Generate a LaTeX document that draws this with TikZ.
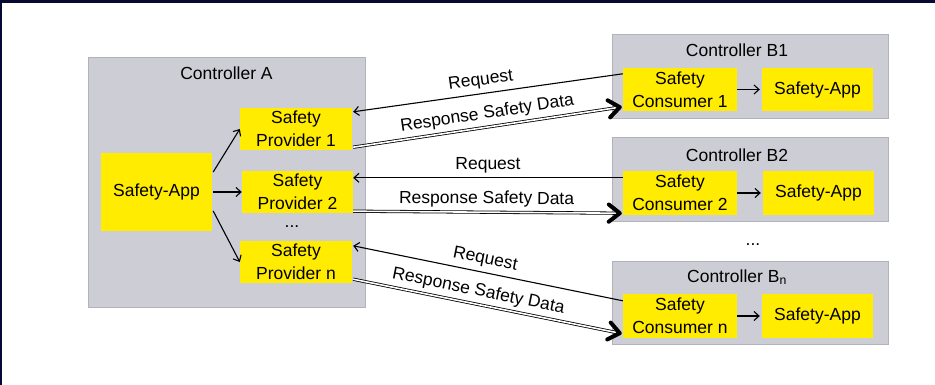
\documentclass[tikz,border=0pt]{standalone}
\usepackage{fontspec}
\setmainfont{Liberation Sans}
\usetikzlibrary{arrows.meta,calc}
\definecolor{ctrlgray}{RGB}{205,205,213}
\definecolor{ctrlborder}{RGB}{178,178,188}
\definecolor{sy}{RGB}{255,236,0}
\definecolor{navy}{RGB}{8,8,52}
\begin{document}
\begin{tikzpicture}[x=1pt,y=-1pt,
  ctrl/.style={fill=ctrlgray, draw=ctrlborder, line width=0.8pt, inner sep=0pt},
  ybox/.style={fill=sy, inner sep=0pt, align=center, font=\fontsize{17.5}{23}\selectfont},
  lbl/.style={font=\fontsize{17.5}{20}\selectfont, inner sep=0pt},
  arrlbl/.style={font=\fontsize{17.5}{20}\selectfont, inner sep=0pt, above=4.5pt, sloped},
  thinarrow/.style={line width=1.1pt, -{Straight Barb[length=5pt,width=9pt,line width=1.1pt]}},
  resp/.style={double, double distance=1.6pt, line width=0.8pt, shorten >=4pt},
  chev/.style={line width=4pt, line join=round, line cap=round}
]
\useasboundingbox (0,0) rectangle (935,385);
\fill[white] (0,0) rectangle (935,385);
\fill[navy] (0,0) rectangle (935,3);
\fill[navy] (0,0) rectangle (2,385);

% Controller A
\node[ctrl, minimum width=277pt, minimum height=250pt] (ca) at (226.5,182) {};
\node[lbl] (lca) at (226.5,73) {Controller A};
\node[ybox, minimum width=111pt, minimum height=78pt] (appa) at (156.5,192) {Safety-App};
\node[ybox, minimum width=112pt, minimum height=42pt] (sp1) at (296,129) {Safety\\Provider 1};
\node[ybox, minimum width=111pt, minimum height=42pt] (sp2) at (297.5,192) {Safety\\Provider 2};
\node[ybox, minimum width=112pt, minimum height=42pt] (spn) at (296,262) {Safety\\Provider n};
\node[lbl] (dotsa) at (292,227) {...};

\draw[thinarrow] ($(appa.east)+(1,-20)$) -- (sp1.west);
\draw[thinarrow] ($(appa.east)+(1,0)$) -- (sp2.west);
\draw[thinarrow] ($(appa.east)+(1,19)$) -- (spn.west);

% Controller B1
\node[ctrl, minimum width=276pt, minimum height=84pt] (cb1) at (750,76) {};
\node[lbl] (lcb1) at (737,50) {Controller B1};
\node[ybox, minimum width=114pt, minimum height=43pt] (co1) at (680,89.5) {Safety\\Consumer 1};
\node[ybox, minimum width=111pt, minimum height=43pt] (ap1) at (817.5,89.5) {Safety-App};
\draw[thinarrow] (co1.east) -- ($(ap1.west)+(-2,0)$);

% Controller B2
\node[ctrl, minimum width=276pt, minimum height=84pt] (cb2) at (750,179) {};
\node[lbl] (lcb2) at (737,155) {Controller B2};
\node[ybox, minimum width=114pt, minimum height=44pt] (co2) at (680,193) {Safety\\Consumer 2};
\node[ybox, minimum width=111pt, minimum height=44pt] (ap2) at (818.5,193) {Safety-App};
\draw[thinarrow] (co2.east) -- ($(ap2.west)+(-2,0)$);

\node[lbl] (dotsb) at (753,245) {...};

% Controller Bn
\node[ctrl, minimum width=276pt, minimum height=83pt] (cbn) at (750,302.5) {};
\node[lbl] (lcbn) at (737,277) {Controller B\textsubscript{n}};
\node[ybox, minimum width=114pt, minimum height=44pt] (con) at (680,316) {Safety\\Consumer n};
\node[ybox, minimum width=111pt, minimum height=44pt] (apn) at (817.5,316) {Safety-App};
\draw[thinarrow] (con.east) -- ($(apn.west)+(-2,0)$);

% connection points
\coordinate (rq1s) at ($(co1.north west)+(0,6)$);
\coordinate (rq1e) at ($(sp1.north east)+(1,4)$);
\coordinate (rs1s) at ($(sp1.south east)+(1,-3)$);
\coordinate (rs1e) at ($(co1.south west)+(-3,-4)$);
\coordinate (rq2s) at ($(co2.north west)+(0,7)$);
\coordinate (rq2e) at ($(sp2.north east)+(0,7)$);
\coordinate (rs2s) at ($(sp2.south east)+(0,-2)$);
\coordinate (rs2e) at ($(co2.south west)+(-3,-2)$);
\coordinate (rqns) at ($(con.north west)+(0,7)$);
\coordinate (rqne) at ($(spn.north east)+(1,5)$);
\coordinate (rsns) at ($(spn.south east)+(1,-4)$);
\coordinate (rsne) at ($(con.south west)+(-3,-5)$);

% Requests
\draw[thinarrow] (rq1s) -- node[arrlbl, pos=0.52] {Request} (rq1e);
\draw[thinarrow] (rq2s) -- node[arrlbl, pos=0.50] {Request} (rq2e);
\draw[thinarrow] (rqns) -- node[arrlbl, pos=0.52] {Request} (rqne);

% Responses
\draw[resp] (rs1s) -- node[arrlbl, pos=0.51] {Response Safety Data} (rs1e);
\draw[resp] (rs2s) -- node[arrlbl, pos=0.50] {Response Safety Data} (rs2e);
\draw[resp] (rsns) -- node[arrlbl, pos=0.46] {Response Safety Data} (rsne);
\foreach \s/\e in {rs1s/rs1e, rs2s/rs2e, rsns/rsne}{
  \draw[chev] let \p1=($(\s)-(\e)$), \n1={atan2(\y1,\x1)} in
    ($(\e)+(\n1+38:14pt)$) -- (\e) -- ($(\e)+(\n1-38:14pt)$);
}
\end{tikzpicture}
\end{document}
